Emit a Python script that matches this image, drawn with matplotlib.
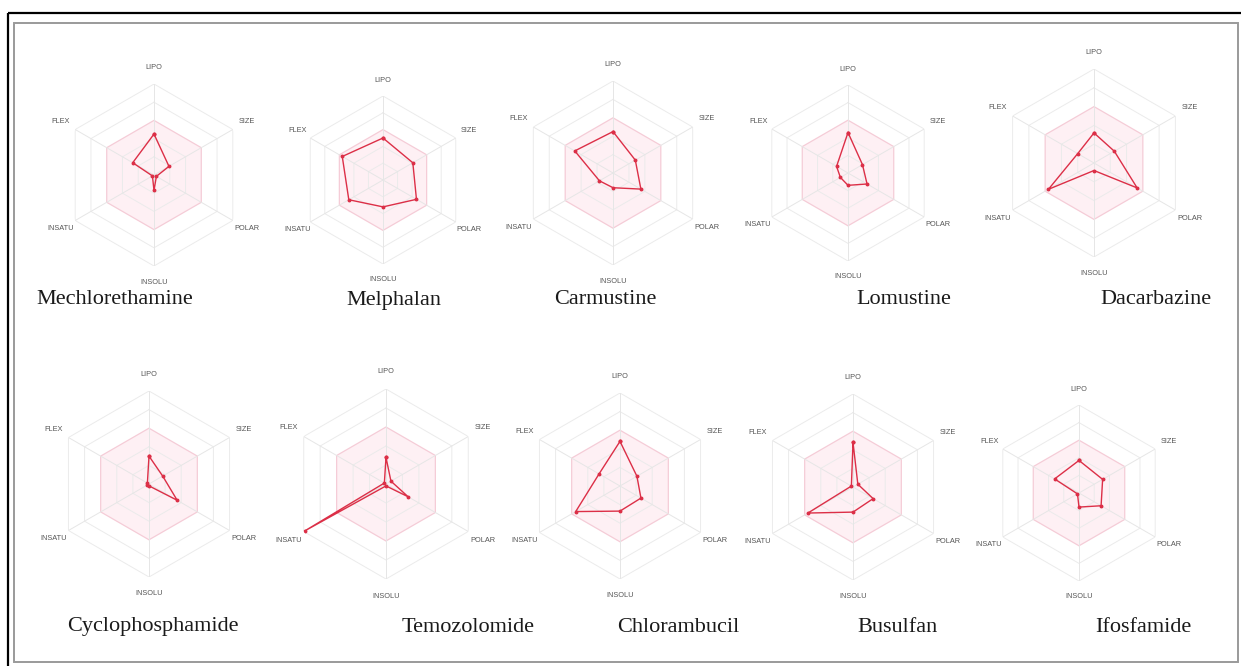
import numpy as np
import matplotlib
matplotlib.use('Agg')
import matplotlib.pyplot as plt
from matplotlib.patches import Rectangle

# bioavailability radar values (fraction of the outer hexagon)
axis_labels = ['LIPO', 'SIZE', 'POLAR', 'INSOLU', 'INSATU', 'FLEX']
names = ['Mechlorethamine', 'Melphalan', 'Carmustine', 'Lomustine', 'Dacarbazine',
         'Cyclophosphamide', 'Temozolomide', 'Chlorambucil', 'Busulfan', 'Ifosfamide']
mechlorethamine = [0.45, 0.19, 0.03, 0.17, 0.02, 0.27]
melphalan = [0.50, 0.41, 0.46, 0.32, 0.47, 0.56]
carmustine = [0.45, 0.28, 0.35, 0.16, 0.17, 0.48]
lomustine = [0.46, 0.19, 0.25, 0.14, 0.10, 0.15]
dacarbazine = [0.32, 0.25, 0.53, 0.08, 0.56, 0.20]
cyclophosphamide = [0.30, 0.17, 0.35, 0.02, 0.02, 0.02]
temozolomide = [0.28, 0.06, 0.27, 0.02, 0.98, 0.02]
chlorambucil = [0.48, 0.21, 0.26, 0.27, 0.55, 0.26]
busulfan = [0.48, 0.06, 0.25, 0.27, 0.56, 0.02]
ifosfamide = [0.37, 0.31, 0.29, 0.16, 0.02, 0.32]
values = [mechlorethamine, melphalan, carmustine, lomustine, dacarbazine,
          cyclophosphamide, temozolomide, chlorambucil, busulfan, ifosfamide]
grid_levels = [0.2, 0.4, 0.6, 0.8, 1.0]
optimal_level = 0.6

# layout in pixels: radar centre, radius, and name position
W, H = 1241, 666
centres = [(154, 175, 91), (383, 180, 84), (613, 173, 92), (848, 173, 88), (1094, 163, 94),
           (149, 484, 93), (386, 484, 95), (620, 486, 93), (853, 487, 93), (1079, 493, 88)]
name_pos = [(115, 300), (394, 300), (605, 300), (904, 300), (1156, 300),
            (153, 627), (468, 627), (678, 627), (898, 627), (1143, 627)]

fig = plt.figure(figsize=(W / 100, H / 100), dpi=100)
fig.patch.set_facecolor('white')

# frame
bg = fig.add_axes([0, 0, 1, 1])
bg.set_xlim(0, W)
bg.set_ylim(H, 0)
bg.axis('off')
bg.add_patch(Rectangle((8, 13), W + 20, H + 20, fill=False, edgecolor='black', lw=1.6))
bg.add_patch(Rectangle((14, 23), 1224, 639, fill=False, edgecolor='#9a9a9a', lw=1.4))

theta = np.deg2rad(np.arange(6) * 60)
theta_closed = np.append(theta, theta[0])

for i in range(len(names)):
    cx, cy, r = centres[i]
    ax = fig.add_axes([(cx - r) / W, 1 - (cy + r) / H, 2 * r / W, 2 * r / H], projection='polar')
    ax.set_theta_zero_location('N')
    ax.set_theta_direction(-1)
    ax.set_ylim(0, 1)
    ax.grid(False)
    ax.spines['polar'].set_visible(False)
    ax.set_xticks([])
    ax.set_yticks([])
    ax.patch.set_alpha(0)

    # optimal (pink) zone
    ax.fill(theta_closed, [optimal_level] * 7, facecolor='#fef0f4', edgecolor='#f5ccd7', lw=0.9, zorder=1)
    for lev in grid_levels:
        if lev == optimal_level:
            continue
        ax.plot(theta_closed, [lev] * 7, color='#ebebeb', lw=0.7, zorder=2)
    for t in theta:
        ax.plot([t, t], [0, 1], color='#e6e6e6', lw=0.7, zorder=2)

    v = values[i]
    ax.plot(theta_closed, v + [v[0]], color='#dc2f47', lw=1.0, marker='o', ms=1.8, zorder=3)

    for t, lab in zip(theta, axis_labels):
        ax.text(t, 1.18, lab, ha='center', va='center', fontsize=5.3,
                family='Liberation Sans', color='#555555', clip_on=False)

    nx, ny = name_pos[i]
    bg.text(nx, ny, names[i], ha='center', va='center', fontsize=16,
            family='Liberation Serif', color='#1a1a1a')

fig.savefig('out.png', dpi=100)
